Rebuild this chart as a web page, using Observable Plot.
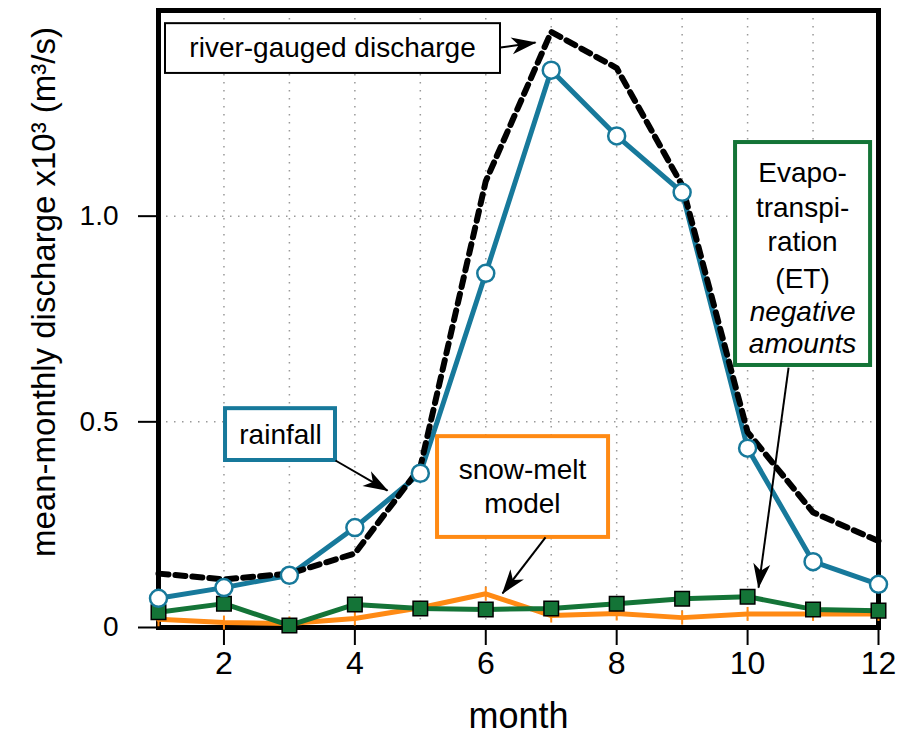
<!DOCTYPE html>
<html><head><meta charset="utf-8">
<script src="https://cdn.jsdelivr.net/npm/d3@7"></script>
<script src="https://cdn.jsdelivr.net/npm/@observablehq/plot@0.6"></script>
<style>body{margin:0;background:#fff;}</style>
</head><body><div id="chart"></div>
<script>
// ---- data ----
const months = [1,2,3,4,5,6,7,8,9,10,11,12];
const riverGauged = [0.131,0.117,0.131,0.18,0.39,1.085,1.448,1.36,1.075,0.475,0.28,0.21];
const rainfall = [0.071,0.097,0.127,0.243,0.375,0.861,1.355,1.195,1.058,0.436,0.16,0.105];
const snowMelt = [0.02,0.012,0.01,0.022,0.048,0.082,0.029,0.034,0.024,0.033,0.033,0.033];
const evapotranspiration = [0.037,0.058,0.005,0.056,0.046,0.044,0.046,0.058,0.07,0.075,0.044,0.041];
const xTicks = [2,4,6,8,10,12];
const yTicks = [0,0.5,1.0];
const gridMonths = [2,3,4,5,6,7,8,9,10,11];
const gridValues = [0.5,1.0];

// ---- annotation boxes, labels and arrows (data coordinates) ----
const boxes = [
  {x1:1.107, x2:6.225, y1:1.468, y2:1.347, color:"#000", w:2},
  {x1:2.024, x2:3.704, y1:0.532, y2:0.406, color:"#17799b", w:4},
  {x1:5.263, x2:7.876, y1:0.464, y2:0.219, color:"#ff8a14", w:4},
  {x1:9.816, x2:11.879, y1:1.179, y2:0.637, color:"#147437", w:4}
];
const labels = [
  {text:"river-gauged discharge", x:3.659, y:1.408, italic:false},
  {text:"rainfall", x:2.864, y:0.469, italic:false},
  {text:"snow-melt", x:6.56, y:0.384, italic:false},
  {text:"model", x:6.56, y:0.301, italic:false},
  {text:"Evapo-", x:10.84, y:1.106, italic:false},
  {text:"transpi-", x:10.84, y:1.019, italic:false},
  {text:"ration", x:10.84, y:0.936, italic:false},
  {text:"(ET)", x:10.84, y:0.848, italic:false},
  {text:"negative", x:10.84, y:0.766, italic:true},
  {text:"amounts", x:10.84, y:0.690, italic:true}
];
const arrows = [
  {x1:6.225, y1:1.410, x2:6.76, y2:1.422},
  {x1:3.704, y1:0.406, x2:4.499, y2:0.333},
  {x1:6.913, y1:0.219, x2:6.256, y2:0.083},
  {x1:10.626, y1:0.632, x2:10.167, y2:0.097}
];

const table = months.map((m,i)=>({month:m, river:riverGauged[i], rain:rainfall[i], snow:snowMelt[i], et:evapotranspiration[i]}));

const BLUE = "#17799b", GREEN = "#147437", ORANGE = "#ff8a14";
const vTick = {draw(ctx, size){ const r = Math.sqrt(size/Math.PI); ctx.moveTo(0,-r); ctx.lineTo(0,r); }};
const FONT = "Liberation Sans, Arial, sans-serif";
const NARROW = "Liberation Sans Narrow, Liberation Sans, Arial, sans-serif";

const svg = Plot.plot({
  width: 915, height: 736,
  marginLeft: 158, marginRight: 37, marginTop: 10, marginBottom: 109,
  style: {fontFamily: FONT, background: "#fff", color: "#000", overflow: "visible"},
  x: {domain: [1,12], label: null},
  y: {domain: [0,1.5], label: null},
  marks: [
    Plot.ruleX(gridMonths, {stroke:"#999", strokeWidth:1.5, strokeDasharray:"1.5,6.5"}),
    Plot.ruleY(gridValues, {stroke:"#999", strokeWidth:1.5, strokeDasharray:"1.5,6.5"}),
    Plot.frame({stroke:"#000", strokeWidth:5}),
    Plot.axisX(xTicks, {tickSize:18, tickPadding:6, fontSize:32, fontFamily:NARROW, strokeWidth:2, label:null}),
    Plot.axisY(yTicks, {tickSize:20, tickPadding:20, fontSize:28, strokeWidth:2, label:null, tickFormat: d => d===0 ? "0" : d.toFixed(1)}),
    Plot.text(["month"], {frameAnchor:"bottom", dy:100, fontSize:36, fontFamily:NARROW, fill:"#000"}),
    Plot.text(["mean-monthly discharge x10³ (m³/s)"], {frameAnchor:"left", textAnchor:"middle", dx:-114, dy:-27, rotate:-90, fontSize:33, fill:"#000"}),
    Plot.rect(boxes, {x1:"x1", x2:"x2", y1:"y1", y2:"y2", fill:"#fff", stroke:"color", strokeWidth:"w"}),
    Plot.line(table, {x:"month", y:"rain", stroke:BLUE, strokeWidth:5}),
    Plot.line(table, {x:"month", y:"river", stroke:"#000", strokeWidth:6, strokeDasharray:"10,7"}),
    Plot.line(table, {x:"month", y:"snow", stroke:ORANGE, strokeWidth:5}),
    Plot.line(table, {x:"month", y:"et", stroke:GREEN, strokeWidth:5}),
    Plot.dot(table, {x:"month", y:"snow", symbol:vTick, r:7, stroke:ORANGE, strokeWidth:2, fill:"none"}),
    Plot.dot(table, {x:"month", y:"et", symbol:"square", r:8.2, fill:GREEN, stroke:"#000", strokeWidth:1.5}),
    Plot.dot(table, {x:"month", y:"rain", r:8.5, fill:"#fff", stroke:BLUE, strokeWidth:2.5}),
    Plot.text(labels.filter(d=>!d.italic), {x:"x", y:"y", text:"text", fontSize:28, fill:"#000"}),
    Plot.text(labels.filter(d=>d.italic), {x:"x", y:"y", text:"text", fontSize:28, fontStyle:"italic", fill:"#000"}),
    Plot.link(arrows, {x1:"x1", y1:"y1", x2:"x2", y2:"y2", stroke:"#000", strokeWidth:2, markerEnd:"arrow"})
  ]
});

const s = d3.select(svg);
let defs = s.select("defs");
if (defs.empty()) defs = s.insert("defs", ":first-child");
defs.append("marker").attr("id","stealthhead").attr("viewBox","-26 -10 28 20")
  .attr("markerWidth",28).attr("markerHeight",20).attr("markerUnits","userSpaceOnUse")
  .attr("orient","auto").attr("refX",0).attr("refY",0)
  .append("path").attr("d","M-24,-8.5L1,0L-24,8.5L-17,0Z").attr("fill","#000").attr("stroke","none");
s.selectAll("path").each(function(){
  const me = this.getAttribute("marker-end");
  if (me && me.indexOf("stealthhead") < 0) this.setAttribute("marker-end","url(#stealthhead)");
});
s.selectAll("g").each(function(){
  const me = this.getAttribute("marker-end");
  if (me) { this.removeAttribute("marker-end"); d3.select(this).selectAll("path").attr("marker-end","url(#stealthhead)"); }
});

document.getElementById("chart").appendChild(svg);
</script>
</body></html>
